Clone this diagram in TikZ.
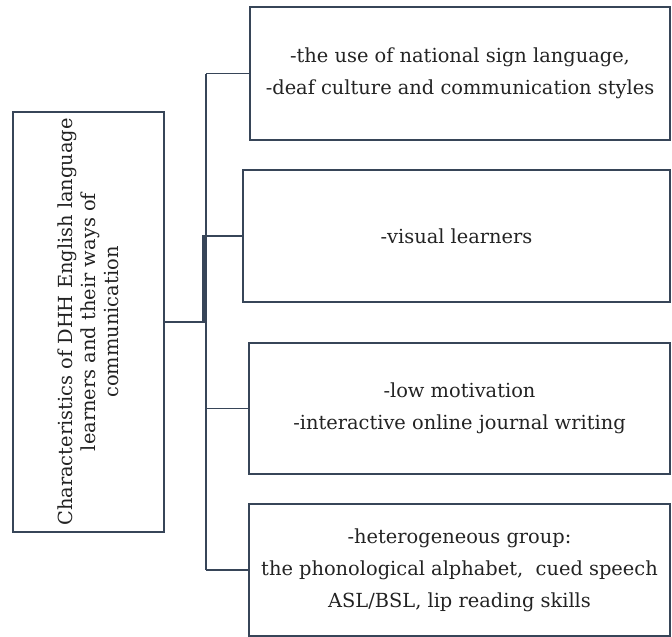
\documentclass[tikz,border=0pt]{standalone}
\usepackage{fontspec}
\setmainfont{DejaVu Serif}
\definecolor{edge}{RGB}{55,69,88}
\definecolor{txt}{RGB}{35,35,35}
\tikzset{
  box/.style={draw=edge, line width=2pt, align=center, text=txt, inner sep=0pt,
    font=\fontsize{19.4}{32}\selectfont},
  leftbox/.style={box, font=\fontsize{19.4}{23}\selectfont},
  conn/.style={draw=edge, line width=1.8pt},
  connb/.style={draw=edge, line width=2.2pt}
}
\begin{document}
\begin{tikzpicture}[x=1pt,y=-1pt]
\useasboundingbox (0,0) rectangle (672,637);
\node[leftbox, rotate=90, minimum width=420pt, minimum height=151pt] (L) at (88.5,322)
  {Characteristics of DHH English language\\learners and their ways of\\communication};
\node[box, minimum width=420pt, minimum height=133pt] (B1) at (460,73.5)
  {-the use of national sign language,\\-deaf culture and communication styles};
\node[box, minimum width=427pt, minimum height=132pt] (B2) at (456.5,236)
  {-visual learners};
\node[box, minimum width=421pt, minimum height=131pt] (B3) at (459.5,408.5)
  {-low motivation\\-interactive online journal writing};
\node[box, minimum width=421pt, minimum height=132pt] (B4) at (459.5,570)
  {-heterogeneous group:\\the phonological alphabet,\ \ cued speech\\ASL/BSL, lip reading skills};
\coordinate (tx) at (206,0);
\coordinate (sx) at (203.5,0);
\draw[conn] (B1.west -| tx) -- (B4.west -| tx);
\draw[conn] (B1.west -| tx) -- (B1.west);
\draw[conn] (B3.west -| tx) -- (B3.west);
\draw[conn] (B4.west -| tx) -- (B4.west);
\draw[connb] (B2.west) -- (B2.west -| sx) -- (L.south -| sx) -- (L.south);
\end{tikzpicture}
\end{document}
